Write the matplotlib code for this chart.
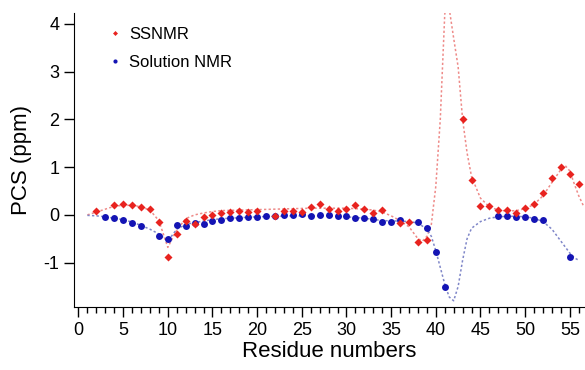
import matplotlib
matplotlib.use("Agg")
import matplotlib.pyplot as plt
from matplotlib.ticker import MultipleLocator

plt.rcParams['font.family'] = ['Liberation Sans', 'DejaVu Sans']
plt.rcParams['axes.unicode_minus'] = False

# measured PCS (ppm)
ss_res = [2, 4, 5, 6, 7, 8, 9, 10, 11, 12, 13, 14, 15, 16, 17, 18, 19, 20,
          22, 23, 24, 25, 26, 27, 28, 29, 30, 31, 32, 33, 34, 36, 37, 38, 39,
          43, 44, 45, 46, 47, 48, 49, 50, 51, 52, 53, 54, 55, 56]
ss_pcs = [0.08, 0.21, 0.23, 0.21, 0.17, 0.13, -0.14, -0.88, -0.4, -0.12, -0.2, -0.05, 0.0, 0.05, 0.06, 0.08, 0.06, 0.09,
          -0.03, 0.09, 0.09, 0.06, 0.17, 0.22, 0.12, 0.09, 0.12, 0.21, 0.12, 0.03, 0.1, -0.16, -0.15, -0.57, -0.52,
          2.0, 0.73, 0.19, 0.19, 0.1, 0.1, 0.05, 0.14, 0.23, 0.45, 0.77, 1.0, 0.86, 0.65]

sol_res = [3, 4, 5, 6, 7, 9, 10, 11, 12, 13, 14, 15, 16, 17, 18, 19, 20, 21, 22, 23, 24, 25,
           26, 27, 28, 29, 30, 31, 32, 33, 34, 35, 36, 38, 39, 40, 41,
           47, 48, 49, 50, 51, 52, 55]
sol_pcs = [-0.05, -0.07, -0.11, -0.17, -0.24, -0.44, -0.5, -0.22, -0.24, -0.17, -0.2, -0.13, -0.1, -0.07, -0.06, -0.05, -0.04, -0.02, -0.03, 0.0, 0.0, 0.02,
           -0.02, 0.0, 0.0, -0.02, -0.03, -0.07, -0.06, -0.09, -0.15, -0.15, -0.1, -0.15, -0.28, -0.78, -1.51,
           -0.03, -0.02, -0.05, -0.05, -0.08, -0.1, -0.89]

# back-calculated curves (dashed)
ss_fit_res = [1, 2, 3, 4, 5, 6, 7, 8, 9, 10, 11, 12, 13, 14, 15, 16, 18, 20, 22, 24, 26, 28, 30, 32, 33, 34,
              35, 36, 37, 38, 38.5, 39, 39.5, 40, 40.5, 41, 41.3, 41.6, 42, 42.5, 43, 43.5, 44, 45, 46, 47,
              48, 49, 50, 51, 52, 53, 54, 54.5, 55, 55.5, 56, 56.5]
ss_fit = [0.0, 0.06, 0.12, 0.18, 0.2, 0.2, 0.17, 0.1, -0.12, -0.68, -0.32, -0.08, 0.0, 0.04, 0.07, 0.09, 0.1, 0.11, 0.12, 0.13, 0.14, 0.14, 0.14, 0.12, 0.1, 0.06,
          -0.02, -0.12, -0.25, -0.5, -0.55, -0.45, -0.2, 0.6, 2.0, 4.2, 4.6, 4.2, 3.7, 3.1, 2.0, 1.3, 0.8, 0.35, 0.17, 0.1,
          0.08, 0.09, 0.13, 0.22, 0.4, 0.68, 0.95, 1.03, 0.92, 0.65, 0.4, 0.2]

sol_fit_res = [1, 2, 3, 4, 5, 6, 7, 8, 9, 10, 11, 12, 13, 14, 15, 16, 18, 20, 22, 24, 26, 28, 30, 32, 34, 36, 37, 38,
               39, 39.5, 40, 40.5, 41, 41.5, 42, 42.5, 43, 43.5, 44, 45, 46, 47, 48, 49, 50, 51, 52, 53, 54, 55, 55.5, 56]
sol_fit = [-0.01, -0.02, -0.04, -0.07, -0.1, -0.15, -0.22, -0.3, -0.4, -0.55, -0.3, -0.2, -0.16, -0.13, -0.1, -0.08, -0.06, -0.04, -0.03, -0.02, -0.02, -0.02, -0.04, -0.07, -0.12, -0.13, -0.14, -0.17,
           -0.3, -0.45, -0.75, -1.1, -1.45, -1.72, -1.8, -1.5, -0.95, -0.5, -0.28, -0.14, -0.07, -0.04, -0.03, -0.03, -0.04, -0.07, -0.14, -0.3, -0.55, -0.8, -0.9, -0.95]

red = '#e8231f'
blue = '#1414b4'

fig = plt.figure(figsize=(5.85, 3.7), dpi=100)
ax = fig.add_axes([74/585, 1 - 307/370, 1 - 74/585, (307 - 13)/370])

ax.plot(ss_fit_res, ss_fit, linestyle=(0, (1.5, 1.5)), color='#ee8a88', lw=1.1)
ax.plot(sol_fit_res, sol_fit, linestyle=(0, (1.5, 1.5)), color='#7f86c8', lw=1.1)
ax.plot(sol_res, sol_pcs, 'o', color=blue, ms=5, mec='none', label='Solution NMR')
ax.plot(ss_res, ss_pcs, 'D', color=red, ms=4.2, mec='none', label='SSNMR')

h, l = ax.get_legend_handles_labels()
ax.legend(h[::-1], l[::-1], loc='upper left', bbox_to_anchor=(0.042, 1.005), frameon=False,
          fontsize=12, markerscale=0.6, handlelength=0.6, handletextpad=0.5, labelspacing=0.78)

ax.set_xlim(-0.5, 56.7)
ax.set_ylim(-1.93, 4.23)
ax.xaxis.set_major_locator(MultipleLocator(5))
ax.xaxis.set_minor_locator(MultipleLocator(1))
ax.set_yticks([-1, 0, 1, 2, 3, 4])
ax.tick_params(axis='both', which='major', direction='out', length=7, width=1, labelsize=13, color='k')
ax.tick_params(axis='x', which='minor', direction='out', length=4, width=1)
ax.spines['top'].set_visible(False)
ax.spines['right'].set_visible(False)
ax.set_xlabel('Residue numbers', fontsize=16, labelpad=2)
ax.set_ylabel('PCS (ppm)', fontsize=16, labelpad=8)

fig.savefig("out.png", dpi=100)
